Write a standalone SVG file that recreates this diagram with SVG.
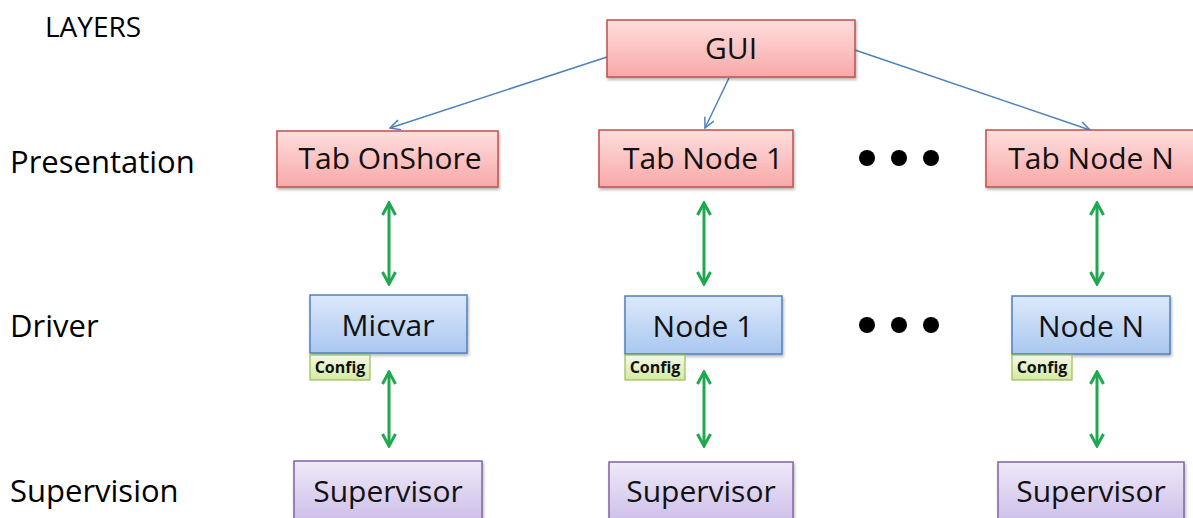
<svg xmlns="http://www.w3.org/2000/svg" width="1193" height="518" viewBox="0 0 1193 518">
<defs>
<linearGradient id="gRed" x1="0" y1="0" x2="0" y2="1"><stop offset="0" stop-color="#ffdede"/><stop offset="1" stop-color="#f7a9a8"/></linearGradient>
<linearGradient id="gBlue" x1="0" y1="0" x2="0" y2="1"><stop offset="0" stop-color="#dde9fb"/><stop offset="1" stop-color="#a9c7f0"/></linearGradient>
<linearGradient id="gPurple" x1="0" y1="0" x2="0" y2="1"><stop offset="0" stop-color="#efe9f8"/><stop offset="1" stop-color="#cdbfe9"/></linearGradient>
<linearGradient id="gGreen" x1="0" y1="0" x2="0" y2="1"><stop offset="0" stop-color="#f3f9e3"/><stop offset="1" stop-color="#d5eaa5"/></linearGradient>
<filter id="sh" x="-10%" y="-10%" width="120%" height="130%"><feDropShadow dx="1" dy="2" stdDeviation="1.5" flood-color="#000" flood-opacity="0.3"/></filter>
<marker id="ab" viewBox="0 0 12 12" refX="11" refY="6" markerWidth="12" markerHeight="12" markerUnits="userSpaceOnUse" orient="auto"><path d="M1,1 L11,6 L1,11" fill="none" stroke="#4f81bd" stroke-width="1.5"/></marker>
<marker id="ag" viewBox="0 0 16 16" refX="14" refY="8" markerWidth="16" markerHeight="16" markerUnits="userSpaceOnUse" orient="auto-start-reverse"><path d="M2,1.5 L14,8 L2,14.5" fill="none" stroke="#1fa84f" stroke-width="3"/></marker>
</defs>
<style>
.lbl{font-family:"Open Sans","Liberation Sans",sans-serif;fill:#000}
.box{font-family:"Open Sans","Liberation Sans",sans-serif;font-size:30px;fill:#111;text-anchor:middle}
.cfg{font-family:"Open Sans","Liberation Sans",sans-serif;font-size:16px;font-weight:bold;fill:#111;text-anchor:middle}
.red{fill:url(#gRed);stroke:#c0504d;stroke-width:1.5;filter:url(#sh)}
.blue{fill:url(#gBlue);stroke:#4f81bd;stroke-width:1.5;filter:url(#sh)}
.pur{fill:url(#gPurple);stroke:#8064a2;stroke-width:1.5;filter:url(#sh)}
.grn{fill:url(#gGreen);stroke:#9bbb59;stroke-width:1.2}
.cb{stroke:#4f81bd;stroke-width:1.5;fill:none;marker-end:url(#ab)}
.cg{stroke:#1fa84f;stroke-width:3;fill:none;marker-end:url(#ag);marker-start:url(#ag)}
</style>
<rect width="1193" height="518" fill="#fff"/>
<g id="labels">
<text class="lbl" x="45" y="37" font-size="28">LAYERS</text>
<text class="lbl" x="10" y="173" font-size="31">Presentation</text>
<text class="lbl" x="10" y="337" font-size="31">Driver</text>
<text class="lbl" x="10" y="502" font-size="31">Supervision</text>
</g>
<g id="connectors">
<path class="cb" d="M607,57 L390,128"/>
<path class="cb" d="M729,78 L705,128"/>
<path class="cb" d="M855,50 L1090,130"/>
<path class="cg" d="M389,203 L389,284"/>
<path class="cg" d="M704,203 L704,284"/>
<path class="cg" d="M1097,203 L1097,284"/>
<path class="cg" d="M389,372 L389,446"/>
<path class="cg" d="M704,372 L704,446"/>
<path class="cg" d="M1097,372 L1097,446"/>
</g>
<g id="gui"><rect class="red" x="607" y="20" width="248" height="57"/><text class="box" x="731" y="59">GUI</text></g>
<g id="tab-onshore"><rect class="red" x="277" y="131" width="221" height="56"/><text class="box" x="390" y="169">Tab OnShore</text></g>
<g id="tab-node1"><rect class="red" x="599" y="130" width="194" height="57"/><text class="box" x="703" y="169">Tab Node 1</text></g>
<g id="tab-nodeN"><rect class="red" x="986" y="130" width="210" height="57"/><text class="box" x="1091" y="169">Tab Node N</text></g>
<g id="dots1" fill="#000"><circle cx="867" cy="158" r="8"/><circle cx="899" cy="158" r="8"/><circle cx="931" cy="158" r="8"/></g>
<g id="dots2" fill="#000"><circle cx="867" cy="325" r="8"/><circle cx="899" cy="325" r="8"/><circle cx="931" cy="325" r="8"/></g>
<g id="micvar"><rect class="blue" x="310" y="295" width="157" height="58"/><text class="box" x="388" y="336">Micvar</text></g>
<g id="node1"><rect class="blue" x="625" y="296" width="157" height="58"/><text class="box" x="703" y="337">Node 1</text></g>
<g id="nodeN"><rect class="blue" x="1012" y="296" width="158" height="58"/><text class="box" x="1091" y="337">Node N</text></g>
<g id="config1"><rect class="grn" x="310" y="355" width="60" height="25"/><text class="cfg" x="340" y="373">Config</text></g>
<g id="config2"><rect class="grn" x="625" y="355" width="60" height="25"/><text class="cfg" x="655" y="373">Config</text></g>
<g id="config3"><rect class="grn" x="1012" y="355" width="60" height="25"/><text class="cfg" x="1042" y="373">Config</text></g>
<g id="sup1"><rect class="pur" x="294" y="461" width="188" height="60"/><text class="box" x="388" y="502">Supervisor</text></g>
<g id="sup2"><rect class="pur" x="609" y="462" width="184" height="60"/><text class="box" x="701" y="502">Supervisor</text></g>
<g id="sup3"><rect class="pur" x="998" y="462" width="186" height="60"/><text class="box" x="1091" y="502">Supervisor</text></g>
</svg>
